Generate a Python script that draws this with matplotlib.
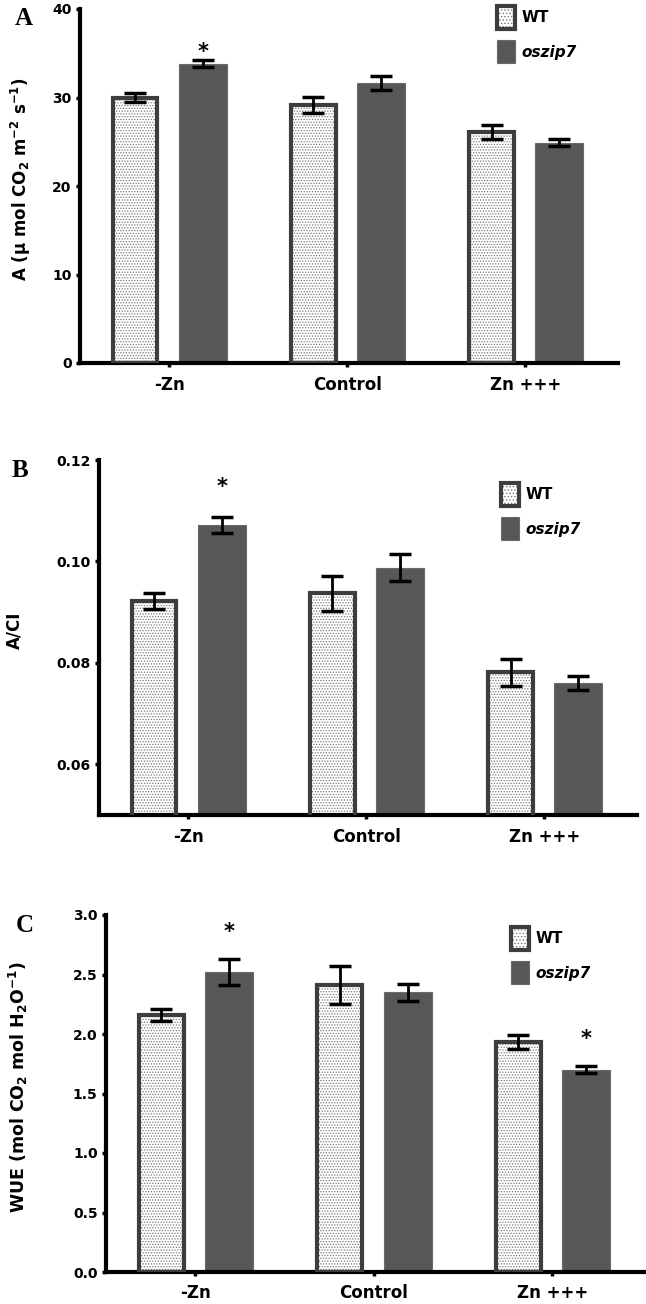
import numpy as np
import matplotlib
matplotlib.use("Agg")
import matplotlib.pyplot as plt
from matplotlib.patches import Patch

plt.rcParams['font.family'] = ['DejaVu Sans']
plt.rcParams['font.weight'] = 'bold'
plt.rcParams['hatch.color'] = '#7a7a7a'
plt.rcParams['hatch.linewidth'] = 0.6

groups = ['-Zn', 'Control', 'Zn +++']
series = ['WT', 'oszip7']

# panel A: net photosynthesis
a_wt = [30.0, 29.2, 26.1]
a_wt_err = [0.5, 0.9, 0.8]
a_mut = [33.8, 31.6, 24.9]
a_mut_err = [0.4, 0.8, 0.4]
a_star = [(0, 'mut')]

# panel B: A/Ci
b_wt = [0.0922, 0.0937, 0.0781]
b_wt_err = [0.0015, 0.0034, 0.0026]
b_mut = [0.1072, 0.0988, 0.0760]
b_mut_err = [0.0016, 0.0026, 0.0014]
b_star = [(0, 'mut')]

# panel C: WUE
c_wt = [2.16, 2.41, 1.93]
c_wt_err = [0.05, 0.16, 0.06]
c_mut = [2.52, 2.35, 1.70]
c_mut_err = [0.11, 0.07, 0.03]
c_star = [(0, 'mut'), (2, 'mut')]

W, H = 646, 1304
fig = plt.figure(figsize=(W / 100, H / 100), dpi=100)

def px_axes(left, right, top, bottom):
    return fig.add_axes([left / W, 1 - bottom / H, (right - left) / W, (bottom - top) / H])

panels = [
    dict(rect=(80, 618, 9, 363), wt=a_wt, wte=a_wt_err, mut=a_mut, mute=a_mut_err,
         ylim=(0, 40), ticks=[0, 10, 20, 30, 40], fmt='{:.0f}', stars=a_star, soff=-1,
         ylabel='A (µ mol CO$_\\mathbf{2}$ m$^{\\mathbf{-2}}$ s$^{\\mathbf{-1}}$)', ylab_xy=(21, 179),
         ylab_size=12, letter='A', letter_xy=(15, 25), leg_xy=(497, 6)),
    dict(rect=(99, 637, 460, 815), wt=b_wt, wte=b_wt_err, mut=b_mut, mute=b_mut_err,
         ylim=(0.05, 0.12), ticks=[0.06, 0.08, 0.10, 0.12], fmt='{:.2f}', stars=b_star, soff=14,
         ylabel='A/CI', ylab_xy=(14, 630), ylab_size=12,
         letter='B', letter_xy=(12, 477), leg_xy=(501, 483)),
    dict(rect=(106, 645, 915, 1272), wt=c_wt, wte=c_wt_err, mut=c_mut, mute=c_mut_err,
         ylim=(0, 3.0), ticks=[0.0, 0.5, 1.0, 1.5, 2.0, 2.5, 3.0], fmt='{:.1f}', stars=c_star, soff=12,
         ylabel='WUE (mol CO$_\\mathbf{2}$ mol H$_\\mathbf{2}$O$^{\\mathbf{-1}}$)', ylab_xy=(18, 1087),
         ylab_size=12.5, letter='C', letter_xy=(16, 932), leg_xy=(511, 927)),
]

x = np.arange(len(groups))
off = 0.19
edge = '#3d3d3d'
dark = '#575757'

for p in panels:
    ax = px_axes(*p['rect'])
    # WT: dotted fill then thick outline
    ax.bar(x - off, p['wt'], width=0.25, color='white', hatch='......', linewidth=0, zorder=2)
    ax.bar(x - off, p['wt'], width=0.25, fill=False, edgecolor=edge, linewidth=3, zorder=3)
    ax.bar(x + off, p['mut'], width=0.27, color=dark, edgecolor='#6a6a6a', linewidth=0.8, zorder=2)
    ax.errorbar(x - off, p['wt'], yerr=p['wte'], fmt='none', ecolor='black',
                elinewidth=2, capsize=8, capthick=2.5, zorder=4)
    ax.errorbar(x + off, p['mut'], yerr=p['mute'], fmt='none', ecolor='black',
                elinewidth=2, capsize=8, capthick=2.5, zorder=4)
    for gi, s in p['stars']:
        top = p['mut'][gi] + p['mute'][gi]
        ax.annotate('*', xy=(gi + off, top), xytext=(0, p['soff']), textcoords='offset points',
                    ha='center', va='bottom', fontsize=15, fontweight='bold')

    ax.set_xlim(-0.5, 2.52)
    ax.set_ylim(*p['ylim'])
    ax.set_yticks(p['ticks'])
    ax.set_yticklabels([p['fmt'].format(t) for t in p['ticks']])
    ax.set_xticks(x)
    ax.set_xticklabels(groups)
    for s in ['top', 'right']:
        ax.spines[s].set_visible(False)
    for s in ['left', 'bottom']:
        ax.spines[s].set_linewidth(3)
    ax.tick_params(axis='y', direction='out', length=3, width=2.5, pad=3, labelsize=10)
    ax.tick_params(axis='x', direction='out', length=3, width=2.5, pad=6, labelsize=12)
    for t in ax.get_xticklabels() + ax.get_yticklabels():
        t.set_fontweight('bold')

    fig.text(p['ylab_xy'][0] / W, 1 - p['ylab_xy'][1] / H, p['ylabel'], rotation=90,
             ha='center', va='center', fontsize=p['ylab_size'], fontweight='bold')
    fig.text(p['letter_xy'][0] / W, 1 - p['letter_xy'][1] / H, p['letter'],
             family='Liberation Serif', fontsize=18, fontweight='bold', ha='left', va='baseline')

    h_wt = (Patch(facecolor='white', hatch='.....', linewidth=0),
            Patch(fill=False, edgecolor=edge, linewidth=3))
    h_mut = Patch(facecolor=dark, edgecolor='#6a6a6a', linewidth=0.8)
    leg = ax.legend([h_wt, h_mut], series, loc='upper left',
                    bbox_to_anchor=(p['leg_xy'][0] / W, 1 - p['leg_xy'][1] / H),
                    bbox_transform=fig.transFigure, frameon=False, fontsize=11,
                    handlelength=1.15, handleheight=1.94, labelspacing=0.75,
                    handletextpad=0.45, borderpad=0, borderaxespad=0)
    texts = leg.get_texts()
    texts[0].set_fontweight('bold')
    texts[1].set_fontweight('bold')
    texts[1].set_fontstyle('italic')

fig.savefig('out.png', dpi=100)
